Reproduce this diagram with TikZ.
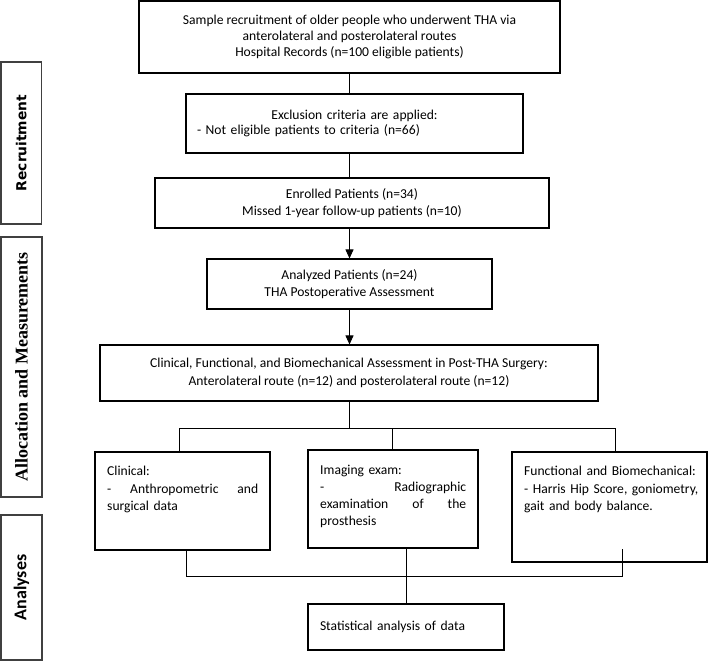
\documentclass[tikz,border=0pt]{standalone}
\usepackage{fontspec}
\usepackage{graphicx}
\setmainfont{Carlito}
\newfontfamily\sidesans{DejaVu Sans}
\newfontfamily\sidecal{Carlito}
\newfontfamily\sideserif{Liberation Serif}
\usetikzlibrary{arrows.meta}
\begin{document}
\begin{tikzpicture}[x=1pt,y=-1pt,
  box/.style={draw, line width=1.1pt, rectangle, inner sep=0pt, font=\fontsize{13.6}{17}\selectfont},
  txt/.style={inner sep=0pt, font=\fontsize{13.6}{17}\selectfont},
  side/.style={draw=black!75, line width=1.1pt, rectangle, inner sep=0pt, rotate=90},
  link/.style={line width=0.9pt},
  arr/.style={link, -{Triangle[length=9pt,width=8pt]}}]
\useasboundingbox (0,0) rectangle (708,661);

% side boxes
\node[side, minimum width=162pt, minimum height=40.5pt, font=\sidesans\bfseries\fontsize{13.8}{16}\selectfont] (rec) at (21.25,143) {Recruitment};
\node[side, minimum width=260pt, minimum height=41pt, font=\sideserif\bfseries\fontsize{18}{20}\selectfont] (alloc) at (21.5,367) {Allocation and Measurements};
\node[side, minimum width=145pt, minimum height=41pt, font=\sidecal\bfseries\fontsize{18}{20}\selectfont] (anal) at (21.5,587.5) {Analyses};

% main column
\node[box, minimum width=421pt, minimum height=72pt, align=center, font=\fontsize{13.6}{16}\selectfont] (top) at (349.5,37)
  {Sample recruitment of older people who underwent THA via\\anterolateral and posterolateral routes\\Hospital Records (n=100 eligible patients)};
\node[box, minimum width=337pt, minimum height=59pt, text width=315pt, align=left, font=\fontsize{13.6}{15}\selectfont] (excl) at (354.5,123.5)
  {\makebox[315pt]{Exclusion criteria are applied:}\\- Not eligible patients to criteria (n=66)};
\node[box, minimum width=394pt, minimum height=50pt, align=center] (enr) at (352,203)
  {Enrolled Patients (n=34)\\Missed 1-year follow-up patients (n=10)};
\node[box, minimum width=285pt, minimum height=50pt, align=center] (ana) at (349.5,284)
  {Analyzed Patients (n=24)\\THA Postoperative Assessment};
\node[box, minimum width=498pt, minimum height=56pt, align=center, font=\fontsize{13.6}{18}\selectfont] (par) at (349,373)
  {Clinical, Functional, and Biomechanical Assessment in Post-THA Surgery:\\Anterolateral route (n=12) and posterolateral route (n=12)};

% child boxes
\node[box, minimum width=175pt, minimum height=98pt] (clin) at (182.5,501) {};
\node[box, minimum width=170pt, minimum height=98pt] (img) at (393,499) {};
\node[box, minimum width=195pt, minimum height=110pt] (func) at (609.5,507) {};
\node[txt, anchor=north west, text width=151pt, align=left, font=\fontsize{13.6}{17.5}\selectfont] (clinT) at (107,466)
  {Clinical:\\-\hfill Anthropometric\hfill and\\surgical data};
\node[txt, anchor=north west, text width=146pt, align=left] (imgT) at (320,465)
  {Imaging exam:\\-\hfill Radiographic\\examination\hfill of\hfill the\\prosthesis};
\node[txt, anchor=north west, text width=180pt, align=left, font=\fontsize{13.6}{17.5}\selectfont] (funcT) at (524,466)
  {Functional and Biomechanical:\\- Harris Hip Score, goniometry,\\gait and body balance.};

\node[box, minimum width=196pt, minimum height=46pt, text width=172pt, align=left] (stat) at (406,627)
  {Statistical analysis of data};

% connectors
\draw[link] (top.south) -- (top.south |- excl.north);
\draw[link] (top.south |- excl.south) -- (top.south |- enr.north);
\draw[arr] (top.south |- enr.south) -- (top.south |- ana.north);
\draw[arr] (ana.south) -- (ana.south |- par.north);

\coordinate (jt) at (349,428);
\coordinate (jl) at (179,428);
\coordinate (jm) at (392,428);
\coordinate (jr) at (615,428);
\draw[link] (par.south) -- (jt);
\draw[link] (jl) -- (jr);
\draw[link] (jl) -- (jl |- clin.north);
\draw[link] (jm) -- (jm |- img.north);
\draw[link] (jr) -- (jr |- func.north);

\coordinate (bl) at (186,576);
\coordinate (bm) at (406,576);
\coordinate (br) at (622,576);
\coordinate (fin) at (622,549);
\draw[link] (bl |- clin.south) -- (bl) -- (br) -- (fin);
\draw[link] (bm |- img.south) -- (stat.north);
\end{tikzpicture}
\end{document}
